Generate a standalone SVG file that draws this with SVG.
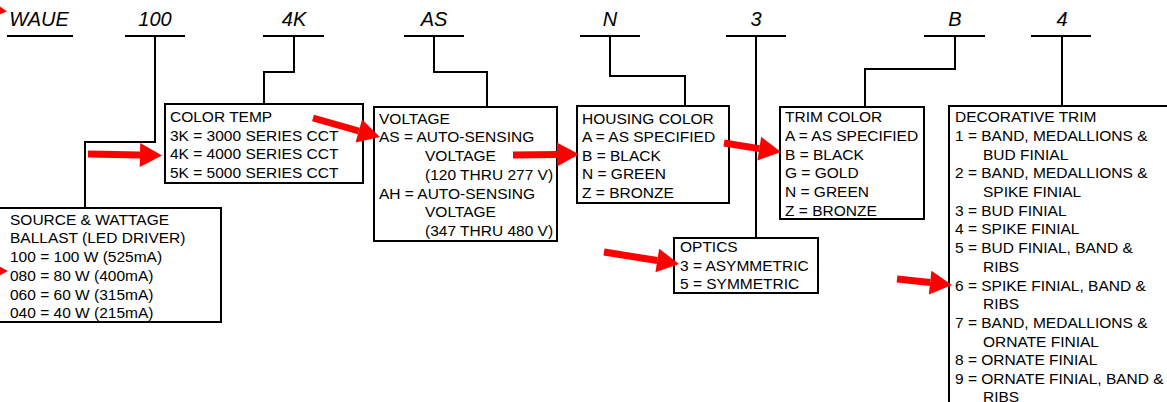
<svg xmlns="http://www.w3.org/2000/svg" width="1167" height="402" viewBox="0 0 1167 402">
<style>
.lbl{font-family:"Liberation Sans",Arial,sans-serif;font-size:20px;font-style:italic;fill:#000;text-anchor:middle}
.t{font-family:"Liberation Sans",Arial,sans-serif;font-size:15.5px;fill:#000}
.box{fill:#fff;stroke:#000;stroke-width:2}
.ln{fill:none;stroke:#000;stroke-width:2}
.arr{stroke:#f00;stroke-width:7;fill:none}
</style>
<defs>
<marker id="ah" markerUnits="userSpaceOnUse" markerWidth="24" markerHeight="26" refX="0" refY="12" orient="auto" overflow="visible">
<path d="M0,0 L22,12 L0,24 Z" fill="#f00"/>
</marker>
</defs>
<rect width="1167" height="402" fill="#fff"/>
<g id="labels">
<text class="lbl" x="39" y="26">WAUE</text>
<text class="lbl" x="155" y="26">100</text>
<text class="lbl" x="294" y="26">4K</text>
<text class="lbl" x="434" y="26">AS</text>
<text class="lbl" x="610" y="26">N</text>
<text class="lbl" x="756" y="26">3</text>
<text class="lbl" x="955" y="26">B</text>
<text class="lbl" x="1062" y="26">4</text>
</g>
<g id="connectors">
<path class="ln" d="M7,36H73"/>
<path class="ln" d="M125,36H185M155,36V142H85V208"/>
<path class="ln" d="M263,36H324M294,36V72H264V104"/>
<path class="ln" d="M404,36H464M434,36V72H487V107"/>
<path class="ln" d="M580,36H640M610,36V76H685V106"/>
<path class="ln" d="M726,36H786M756,36V238"/>
<path class="ln" d="M924,36H985M955,36V69H865V107"/>
<path class="ln" d="M1031,36H1091M1062,36V106"/>
</g>
<g id="source">
<rect class="box" x="-2" y="208" width="223" height="114"/>
<text class="t" x="10" y="224.7">SOURCE &amp; WATTAGE</text>
<text class="t" x="10" y="243.4">BALLAST (LED DRIVER)</text>
<text class="t" x="10" y="262.1">100 = 100 W (525mA)</text>
<text class="t" x="10" y="280.8">080 = 80 W (400mA)</text>
<text class="t" x="10" y="299.5">060 = 60 W (315mA)</text>
<text class="t" x="10" y="318.2">040 = 40 W (215mA)</text>
</g>
<g id="colortemp">
<rect class="box" x="165" y="104" width="198" height="79"/>
<text class="t" x="170" y="122.2">COLOR TEMP</text>
<text class="t" x="170" y="140.7">3K = 3000 SERIES CCT</text>
<text class="t" x="170" y="159.2">4K = 4000 SERIES CCT</text>
<text class="t" x="170" y="177.7">5K = 5000 SERIES CCT</text>
</g>
<g id="voltage">
<rect class="box" x="374" y="107" width="183" height="134"/>
<text class="t" x="379" y="123.7">VOLTAGE</text>
<text class="t" x="379" y="142.4">AS = AUTO-SENSING</text>
<text class="t" x="425" y="161.1">VOLTAGE</text>
<text class="t" x="425" y="179.8">(120 THRU 277 V)</text>
<text class="t" x="379" y="198.5">AH = AUTO-SENSING</text>
<text class="t" x="425" y="217.2">VOLTAGE</text>
<text class="t" x="425" y="235.9">(347 THRU 480 V)</text>
</g>
<g id="housing">
<rect class="box" x="577" y="106" width="152" height="97"/>
<text class="t" x="582" y="123.5">HOUSING COLOR</text>
<text class="t" x="582" y="142">A = AS SPECIFIED</text>
<text class="t" x="582" y="160.5">B = BLACK</text>
<text class="t" x="582" y="179">N = GREEN</text>
<text class="t" x="582" y="197.5">Z = BRONZE</text>
</g>
<g id="optics">
<rect class="box" x="674" y="238" width="144" height="55"/>
<text class="t" x="680" y="252">OPTICS</text>
<text class="t" x="680" y="270.5">3 = ASYMMETRIC</text>
<text class="t" x="680" y="289">5 = SYMMETRIC</text>
</g>
<g id="trim">
<rect class="box" x="780" y="107" width="144" height="112"/>
<text class="t" x="785" y="122.2">TRIM COLOR</text>
<text class="t" x="785" y="140.9">A = AS SPECIFIED</text>
<text class="t" x="785" y="159.6">B = BLACK</text>
<text class="t" x="785" y="178.3">G = GOLD</text>
<text class="t" x="785" y="197">N = GREEN</text>
<text class="t" x="785" y="215.7">Z = BRONZE</text>
</g>
<g id="decorative">
<rect class="box" x="949" y="106" width="240" height="320"/>
<text class="t" x="955" y="122.2">DECORATIVE TRIM</text>
<text class="t" x="955" y="140.9">1 = BAND, MEDALLIONS &amp;</text>
<text class="t" x="983" y="159.6">BUD FINIAL</text>
<text class="t" x="955" y="178.3">2 = BAND, MEDALLIONS &amp;</text>
<text class="t" x="983" y="197">SPIKE FINIAL</text>
<text class="t" x="955" y="215.7">3 = BUD FINIAL</text>
<text class="t" x="955" y="234.4">4 = SPIKE FINIAL</text>
<text class="t" x="955" y="253.1">5 = BUD FINIAL, BAND &amp;</text>
<text class="t" x="983" y="271.8">RIBS</text>
<text class="t" x="955" y="290.5">6 = SPIKE FINIAL, BAND &amp;</text>
<text class="t" x="983" y="309.2">RIBS</text>
<text class="t" x="955" y="327.9">7 = BAND, MEDALLIONS &amp;</text>
<text class="t" x="983" y="346.6">ORNATE FINIAL</text>
<text class="t" x="955" y="365.3">8 = ORNATE FINIAL</text>
<text class="t" x="955" y="384">9 = ORNATE FINIAL, BAND &amp;</text>
<text class="t" x="983" y="401.5">RIBS</text>
</g>
<g id="arrows">
<line class="arr" x1="88" y1="154" x2="140" y2="155" marker-end="url(#ah)"/>
<line class="arr" x1="313" y1="118" x2="358.8" y2="131" marker-end="url(#ah)"/>
<line class="arr" x1="513" y1="155" x2="557" y2="154.5" marker-end="url(#ah)"/>
<line class="arr" x1="724" y1="143" x2="759.3" y2="148.6" marker-end="url(#ah)"/>
<line class="arr" x1="604" y1="252" x2="657.3" y2="260.5" marker-end="url(#ah)"/>
<line class="arr" x1="897" y1="279" x2="930.1" y2="282.6" marker-end="url(#ah)"/>
<line class="arr" x1="-60" y1="271" x2="-14" y2="271" marker-end="url(#ah)"/>
<line class="arr" x1="-60" y1="4" x2="-14.9" y2="9" marker-end="url(#ah)"/>
</g>
</svg>
